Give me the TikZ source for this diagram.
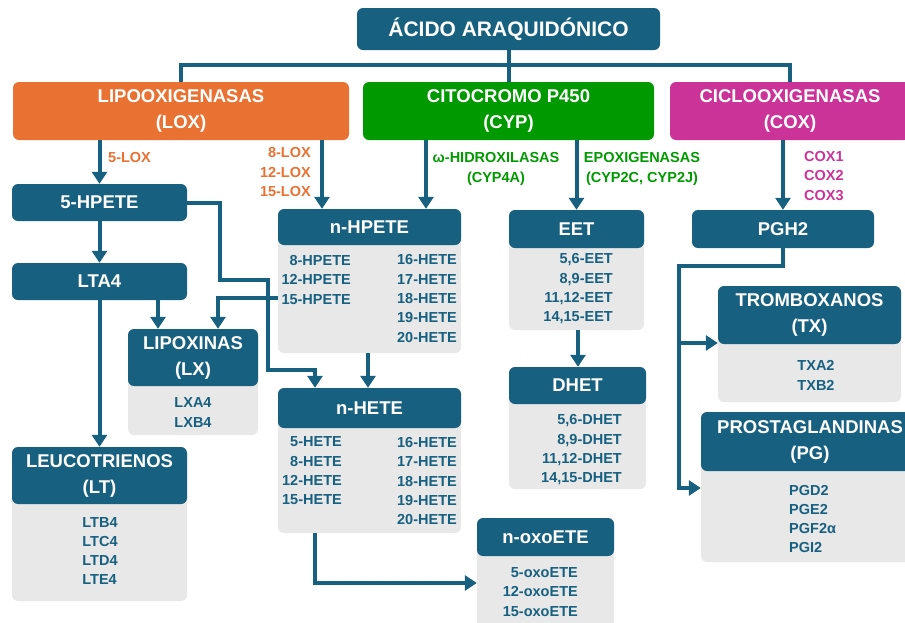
\documentclass[tikz,border=0pt]{standalone}
\usepackage{fontspec}
\setmainfont{Liberation Sans}
\usetikzlibrary{arrows.meta}
\definecolor{acblue}{HTML}{17607F}
\definecolor{loxorange}{HTML}{E97132}
\definecolor{cypgreen}{HTML}{009A00}
\definecolor{coxpink}{HTML}{CC3399}
\definecolor{bodygrey}{HTML}{E8E8E8}
\begin{document}
\begin{tikzpicture}[x=1pt,y=-1pt]
        \tikzstyle{head_style} = [rounded corners=6pt, fill=acblue, text=white, font=\bfseries\fontsize{18.5}{26}\selectfont, align=center, inner sep=0pt]
        \tikzstyle{body_style} = [rounded corners=6pt, fill=bodygrey, inner sep=0pt]
        \tikzstyle{list_style} = [text=acblue, font=\bfseries\fontsize{14.5}{19.3}\selectfont, inner sep=0pt]
        \tikzstyle{enz_style} = [font=\bfseries\fontsize{14.5}{19.5}\selectfont, inner sep=0pt]
        \tikzstyle{line_style} = [draw=acblue, line width=4pt]
        \tikzstyle{arrow_style} = [line_style, -{Triangle[length=12pt,width=15pt]}]
        \clip (0,0) rectangle (905,622);
        % top level
        \node[head_style, minimum width=303pt, minimum height=42pt, font=\bfseries\fontsize{21}{26}\selectfont] (acido) at (508.5,29) {ÁCIDO ARAQUIDÓNICO};
        \node[head_style, fill=loxorange, minimum width=336pt, minimum height=58pt] (lox) at (181,111) {LIPOOXIGENASAS\\(LOX)};
        \node[head_style, fill=cypgreen, minimum width=291pt, minimum height=58pt] (cyp) at (508.5,111) {CITOCROMO P450\\(CYP)};
        \node[head_style, fill=coxpink, minimum width=240pt, minimum height=58pt] (cox) at (790,111) {CICLOOXIGENASAS\\(COX)};
        % enzyme labels
        \node[enz_style, text=loxorange, anchor=west] (lox5) at (108,158) {5-LOX};
        \node[enz_style, text=loxorange, align=right, anchor=east] (lox_n) at (311,172.5) {8-LOX\\12-LOX\\15-LOX};
        \node[enz_style, text=cypgreen, align=center] (hidrox) at (496,169) {ω-HIDROXILASAS\\(CYP4A)};
        \node[enz_style, text=cypgreen, align=center] (epox) at (642,169) {EPOXIGENASAS\\(CYP2C, CYP2J)};
        \node[enz_style, text=coxpink, align=left, anchor=west] (cox_n) at (804,176) {COX1\\COX2\\COX3};
        % LOX branch
        \node[head_style, minimum width=175pt, minimum height=37pt] (hpete5) at (99.5,202.5) {5-HPETE};
        \node[head_style, minimum width=175pt, minimum height=37pt] (lta4) at (99.5,281.5) {LTA4};
        \node[body_style, minimum width=130pt, minimum height=106pt] (lx_b) at (193,382) {};
        \node[head_style, minimum width=130pt, minimum height=57pt] (lx) at (193,357.5) {LIPOXINAS\\(LX)};
        \node[list_style, align=center] (lx_l) at (193,412.5) {LXA4\\LXB4};
        \node[body_style, minimum width=175pt, minimum height=154pt] (lt_b) at (99.5,524) {};
        \node[head_style, minimum width=175pt, minimum height=57pt] (lt) at (99.5,475.5) {LEUCOTRIENOS\\(LT)};
        \node[list_style, align=left] (lt_l) at (100,551) {LTB4\\LTC4\\LTD4\\LTE4};
        % HPETE / HETE
        \node[body_style, minimum width=183pt, minimum height=144pt] (nhpete_b) at (369.5,281) {};
        \node[head_style, minimum width=183pt, minimum height=36pt] (nhpete) at (369.5,227) {n-HPETE};
        \node[list_style, align=right, anchor=east] (nhpete_l1) at (351,280) {8-HPETE\\12-HPETE\\15-HPETE};
        \node[list_style, align=right, anchor=east] (nhpete_l2) at (457,298.5) {16-HETE\\17-HETE\\18-HETE\\19-HETE\\20-HETE};
        \node[body_style, minimum width=183pt, minimum height=145pt] (nhete_b) at (369.5,460.5) {};
        \node[head_style, minimum width=183pt, minimum height=40pt] (nhete) at (369.5,408) {n-HETE};
        \node[list_style, align=right, anchor=east] (nhete_l1) at (342,471) {5-HETE\\8-HETE\\12-HETE\\15-HETE};
        \node[list_style, align=right, anchor=east] (nhete_l2) at (457,481) {16-HETE\\17-HETE\\18-HETE\\19-HETE\\20-HETE};
        \node[body_style, minimum width=137pt, minimum height=122pt] (noxo_b) at (545.5,579) {};
        \node[head_style, minimum width=137pt, minimum height=38pt] (noxo) at (545.5,537) {n-oxoETE};
        \node[list_style, align=right, anchor=east] (noxo_l) at (578,592) {5-oxoETE\\12-oxoETE\\15-oxoETE};
        % CYP branch
        \node[body_style, minimum width=135pt, minimum height=120pt] (eet_b) at (576.5,270) {};
        \node[head_style, minimum width=135pt, minimum height=38pt] (eet) at (576.5,229) {EET};
        \node[list_style, align=right, anchor=east] (eet_l) at (613,289) {5,6-EET\\8,9-EET\\11,12-EET\\14,15-EET};
        \node[body_style, minimum width=137pt, minimum height=122pt] (dhet_b) at (577.5,428) {};
        \node[head_style, minimum width=137pt, minimum height=37pt] (dhet) at (577.5,385.5) {DHET};
        \node[list_style, align=right, anchor=east] (dhet_l) at (622,450) {5,6-DHET\\8,9-DHET\\11,12-DHET\\14,15-DHET};
        % COX branch
        \node[head_style, minimum width=182pt, minimum height=38pt] (pgh2) at (783,229) {PGH2};
        \node[body_style, minimum width=183pt, minimum height=116pt] (tx_b) at (809.5,344) {};
        \node[head_style, minimum width=183pt, minimum height=58pt] (tx) at (809.5,315) {TROMBOXANOS\\(TX)};
        \node[list_style, align=left] (tx_l) at (816,375.5) {TXA2\\TXB2};
        \node[body_style, minimum width=218pt, minimum height=150pt] (pg_b) at (810,487) {};
        \node[head_style, minimum width=218pt, minimum height=59pt] (pg) at (810,441.5) {PROSTAGLANDINAS\\(PG)};
        \node[list_style, align=left, anchor=west] (pg_l) at (789,519) {PGD2\\PGE2\\PGF2α\\PGI2};
        % connectors
        \coordinate (bus) at (0,65);
        \coordinate (split) at (679,343);
        \draw[line_style] (acido.south) -- (acido.south |- bus) -| (lox.north);
        \draw[line_style] (acido.south) -- (acido.south |- bus) -| (cox.north);
        \draw[line_style] (acido) -- (cyp);
        \draw[arrow_style] (lox.south -| hpete5.north) -- (hpete5.north);
        \draw[arrow_style] (lox.south -| 322,0) -- (nhpete.north -| 322,0);
        \draw[arrow_style] (cyp.south -| 426,0) -- (nhpete.north -| 426,0);
        \draw[arrow_style] (cyp.south -| eet.north) -- (eet.north);
        \draw[arrow_style] (cox.south -| pgh2.north) -- (pgh2.north);
        \draw[arrow_style] (hpete5) -- (lta4);
        \draw[arrow_style] (hpete5.east) -| (220,280) -| (268,370) -| (nhete.north -| 315,0);
        \draw[arrow_style] (nhpete_b.west |- 0,298) -| (lx.north -| 218,0);
        \draw[arrow_style] (lta4.south -| 158,0) -- (lx.north -| 158,0);
        \draw[arrow_style] (lta4) -- (lt);
        \draw[arrow_style] (nhpete_b.south -| 368,0) -- (nhete.north -| 368,0);
        \draw[arrow_style] (nhete_b.south -| 315,0) |- (noxo_b.west |- 0,583);
        \draw[arrow_style] (eet_b.south -| 578,0) -- (dhet.north -| 578,0);
        \draw[arrow_style] (pgh2.south) |- (679,266) |- (pg_b.west |- 0,488);
        \draw[arrow_style] (split) -- (tx_b.west |- split);
\end{tikzpicture}
\end{document}
